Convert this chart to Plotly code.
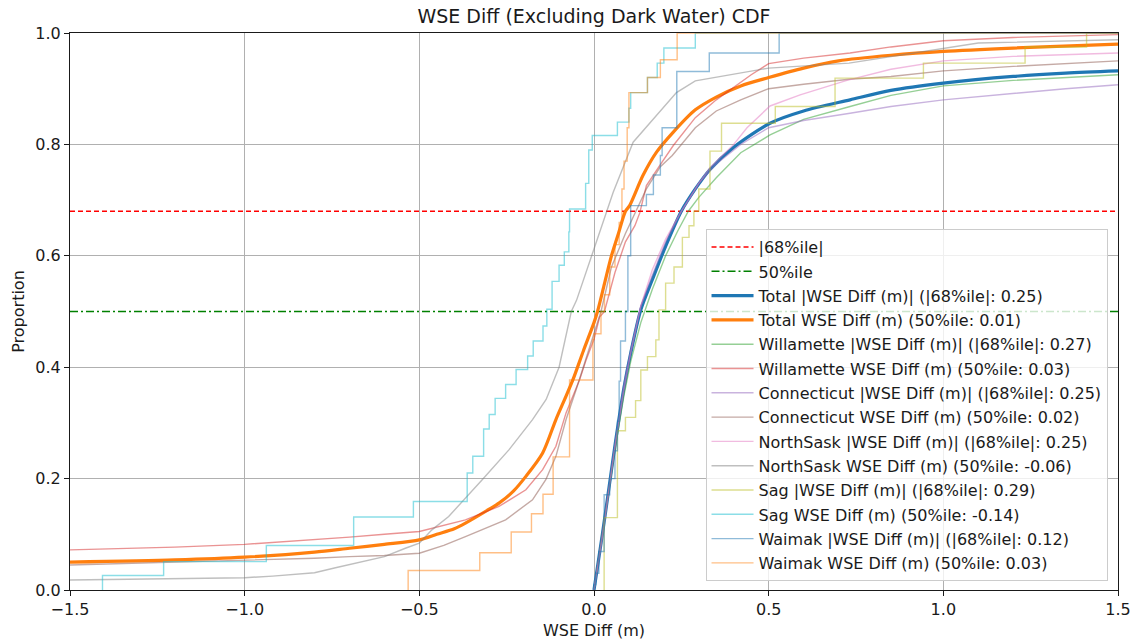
import plotly.graph_objects as go

# ---------------- data ----------------
x_range = [-1.5, 1.5]
ref_68 = 0.68
ref_50 = 0.50

total_abs_x = [0, 0.012, 0.024, 0.043, 0.062, 0.086, 0.105, 0.134, 0.167, 0.205, 0.25, 0.29, 0.332, 0.4, 0.504, 0.6, 0.733, 0.85, 1.0, 1.2, 1.35, 1.5]
total_abs_y = [0, 0.05, 0.1, 0.184, 0.268, 0.364, 0.425, 0.503, 0.557, 0.617, 0.68, 0.72, 0.755, 0.795, 0.838, 0.86, 0.88, 0.897, 0.91, 0.922, 0.928, 0.932]

total_x = [-1.5, -1.2, -1.0, -0.8, -0.7, -0.6, -0.5, -0.45, -0.4, -0.368, -0.3, -0.272, -0.23, -0.195, -0.147, -0.109, -0.08, -0.06, -0.03, 0.0, 0.01, 0.03, 0.05, 0.07, 0.09, 0.102, 0.14, 0.179, 0.227, 0.29, 0.35, 0.42, 0.5, 0.6, 0.7, 0.85, 1.0, 1.2, 1.5]
total_y = [0.05, 0.054, 0.059, 0.068, 0.075, 0.082, 0.09, 0.1, 0.11, 0.12, 0.145, 0.156, 0.178, 0.204, 0.246, 0.306, 0.348, 0.378, 0.43, 0.48, 0.5, 0.55, 0.6, 0.64, 0.68, 0.69, 0.744, 0.786, 0.822, 0.862, 0.885, 0.905, 0.92, 0.937, 0.95, 0.96, 0.967, 0.973, 0.98]

wil_abs_x = [0, 0.024, 0.043, 0.062, 0.086, 0.105, 0.134, 0.167, 0.205, 0.24, 0.27, 0.3, 0.35, 0.42, 0.504, 0.6, 0.733, 0.85, 1.0, 1.2, 1.5]
wil_abs_y = [0, 0.1, 0.18, 0.26, 0.35, 0.41, 0.48, 0.54, 0.6, 0.645, 0.68, 0.705, 0.74, 0.785, 0.817, 0.845, 0.868, 0.888, 0.905, 0.915, 0.925]

wil_x = [-1.5, -1.2, -1.0, -0.8, -0.7, -0.6, -0.5, -0.368, -0.272, -0.195, -0.147, -0.109, -0.08, -0.041, -0.022, 0.0, 0.016, 0.03, 0.06, 0.09, 0.117, 0.131, 0.15, 0.188, 0.227, 0.29, 0.35, 0.45, 0.5, 0.6, 0.733, 0.85, 1.0, 1.2, 1.4, 1.5]
wil_y = [0.072, 0.077, 0.082, 0.09, 0.095, 0.1, 0.105, 0.126, 0.15, 0.18, 0.216, 0.258, 0.318, 0.378, 0.414, 0.45, 0.49, 0.5, 0.57, 0.625, 0.654, 0.677, 0.726, 0.762, 0.798, 0.848, 0.88, 0.925, 0.945, 0.955, 0.964, 0.975, 0.986, 0.992, 0.996, 0.997]

con_abs_x = [0, 0.024, 0.043, 0.062, 0.086, 0.105, 0.134, 0.167, 0.205, 0.25, 0.3, 0.35, 0.42, 0.5, 0.6, 0.733, 0.85, 1.0, 1.2, 1.35, 1.5]
con_abs_y = [0, 0.1, 0.185, 0.27, 0.37, 0.43, 0.51, 0.565, 0.625, 0.68, 0.73, 0.765, 0.8, 0.83, 0.843, 0.856, 0.868, 0.88, 0.892, 0.9, 0.907]

con_x = [-1.5, -1.2, -1.0, -0.8, -0.7, -0.6, -0.5, -0.43, -0.368, -0.3, -0.253, -0.176, -0.138, -0.109, -0.08, -0.051, -0.02, 0.0, 0.02, 0.05, 0.09, 0.12, 0.15, 0.19, 0.224, 0.29, 0.35, 0.42, 0.5, 0.6, 0.73, 0.85, 1.0, 1.2, 1.35, 1.5]
con_y = [0.045, 0.05, 0.054, 0.057, 0.06, 0.062, 0.066, 0.08, 0.096, 0.113, 0.126, 0.162, 0.198, 0.24, 0.306, 0.36, 0.42, 0.46, 0.5, 0.58, 0.64, 0.68, 0.72, 0.76, 0.78, 0.83, 0.86, 0.88, 0.9, 0.908, 0.917, 0.922, 0.932, 0.94, 0.945, 0.95]

ns_abs_x = [0, 0.024, 0.043, 0.062, 0.086, 0.105, 0.134, 0.167, 0.205, 0.25, 0.3, 0.332, 0.4, 0.438, 0.504, 0.59, 0.724, 0.85, 1.0, 1.2, 1.5]
ns_abs_y = [0, 0.095, 0.18, 0.265, 0.36, 0.425, 0.51, 0.575, 0.63, 0.68, 0.73, 0.758, 0.8, 0.83, 0.869, 0.889, 0.915, 0.935, 0.95, 0.958, 0.964]

ns_x = [-1.5, -1.0, -0.92, -0.8, -0.74, -0.6, -0.54, -0.5, -0.464, -0.416, -0.32, -0.243, -0.176, -0.137, -0.1, -0.065, -0.05, -0.003, 0.055, 0.112, 0.179, 0.236, 0.29, 0.5, 0.73, 1.0, 1.1, 1.5]
ns_y = [0.018, 0.022, 0.025, 0.031, 0.04, 0.06, 0.075, 0.084, 0.108, 0.132, 0.198, 0.252, 0.306, 0.342, 0.4, 0.5, 0.52, 0.606, 0.714, 0.804, 0.851, 0.893, 0.914, 0.937, 0.946, 0.972, 0.982, 0.988]

sag_abs_x = [0.029, 0.029, 0.067, 0.09, 0.119, 0.134, 0.153, 0.177, 0.186, 0.205, 0.229, 0.253, 0.272, 0.286, 0.3, 0.332, 0.365, 0.519, 0.69, 0.943, 1.234, 1.41, 1.5]
sag_abs_y = [0, 0.13, 0.286, 0.31, 0.34, 0.395, 0.419, 0.449, 0.503, 0.551, 0.58, 0.633, 0.654, 0.68, 0.72, 0.788, 0.838, 0.868, 0.919, 0.946, 0.975, 1.0, 1.0]

sag_x = [-1.407, -1.407, -1.232, -0.938, -0.688, -0.517, -0.363, -0.347, -0.316, -0.30, -0.283, -0.253, -0.223, -0.19, -0.174, -0.146, -0.135, -0.12, -0.1, -0.085, -0.072, -0.07, -0.024, -0.015, -0.005, 0.067, 0.1, 0.105, 0.153, 0.181, 0.2, 0.29, 1.5]
sag_y = [0, 0.026, 0.051, 0.08, 0.131, 0.159, 0.21, 0.24, 0.289, 0.315, 0.344, 0.369, 0.396, 0.42, 0.447, 0.474, 0.504, 0.554, 0.583, 0.607, 0.643, 0.684, 0.73, 0.79, 0.816, 0.84, 0.865, 0.893, 0.92, 0.946, 0.973, 1.0, 1.0]

wai_abs_x = [0, 0, 0.005, 0.014, 0.029, 0.045, 0.06, 0.067, 0.072, 0.076, 0.09, 0.097, 0.105, 0.15, 0.17, 0.19, 0.195, 0.237, 0.33, 0.53, 1.5]
wai_abs_y = [0, 0.01, 0.03, 0.069, 0.171, 0.2, 0.25, 0.303, 0.375, 0.447, 0.5, 0.6, 0.69, 0.71, 0.745, 0.78, 0.83, 0.931, 0.964, 1.0, 1.0]

wai_x = [-0.532, -0.532, -0.327, -0.237, -0.179, -0.146, -0.117, -0.07, -0.003, 0.0, 0.02, 0.03, 0.045, 0.06, 0.072, 0.08, 0.086, 0.095, 0.1, 0.153, 0.19, 0.238, 1.5]
wai_y = [0, 0.035, 0.067, 0.104, 0.137, 0.172, 0.239, 0.377, 0.45, 0.46, 0.5, 0.53, 0.58, 0.62, 0.66, 0.72, 0.77, 0.83, 0.893, 0.92, 0.952, 1.0, 1.0]

x_ticks = [-1.5, -1.0, -0.5, 0.0, 0.5, 1.0, 1.5]
x_tick_text = ["\u22121.5", "\u22121.0", "\u22120.5", "0.0", "0.5", "1.0", "1.5"]
y_ticks = [0.0, 0.2, 0.4, 0.6, 0.8, 1.0]
y_tick_text = ["0.0", "0.2", "0.4", "0.6", "0.8", "1.0"]

# ---------------- figure ----------------
FONT = "DejaVu Sans"
FS = 16
fig = go.Figure()

def add(x, y, name, color, width, dash="solid", shape="linear", smoothing=None):
    line = dict(color=color, width=width, dash=dash, shape=shape)
    if smoothing is not None:
        line["smoothing"] = smoothing
    fig.add_trace(go.Scatter(x=x, y=y, mode="lines", name=name, line=line,
                             legendgroup=name, hoverinfo="skip"))

add(x_range, [ref_68, ref_68], "|68%ile|", "#ff0000", 1.6, dash="5px,3px")
add(x_range, [ref_50, ref_50], "50%ile", "#008000", 1.6, dash="8px,3px,2px,3px")
add(total_abs_x, total_abs_y, "Total |WSE Diff (m)| (|68%ile|: 0.25)", "#1f77b4", 3.2, shape="spline", smoothing=0.8)
add(total_x, total_y, "Total WSE Diff (m) (50%ile: 0.01)", "#ff7f0e", 3.2, shape="spline", smoothing=0.8)

A = 0.5
add(wil_abs_x, wil_abs_y, "Willamette |WSE Diff (m)| (|68%ile|: 0.27)", f"rgba(44,160,44,{A})", 1.4)
add(wil_x, wil_y, "Willamette WSE Diff (m) (50%ile: 0.03)", f"rgba(214,39,40,{A})", 1.4)
add(con_abs_x, con_abs_y, "Connecticut |WSE Diff (m)| (|68%ile|: 0.25)", f"rgba(148,103,189,{A})", 1.4)
add(con_x, con_y, "Connecticut WSE Diff (m) (50%ile: 0.02)", f"rgba(140,86,75,{A})", 1.4)
add(ns_abs_x, ns_abs_y, "NorthSask |WSE Diff (m)| (|68%ile|: 0.25)", f"rgba(227,119,194,{A})", 1.4)
add(ns_x, ns_y, "NorthSask WSE Diff (m) (50%ile: -0.06)", f"rgba(127,127,127,{A})", 1.4)
add(sag_abs_x, sag_abs_y, "Sag |WSE Diff (m)| (|68%ile|: 0.29)", f"rgba(188,189,34,{A})", 1.4, shape="hv")
add(sag_x, sag_y, "Sag WSE Diff (m) (50%ile: -0.14)", f"rgba(23,190,207,{A})", 1.4, shape="hv")
add(wai_abs_x, wai_abs_y, "Waimak |WSE Diff (m)| (|68%ile|: 0.12)", f"rgba(31,119,180,{A})", 1.4, shape="hv")
add(wai_x, wai_y, "Waimak WSE Diff (m) (50%ile: 0.03)", f"rgba(255,127,14,{A})", 1.4, shape="hv")

axis_common = dict(
    showline=True, linecolor="#1a1a1a", linewidth=1.2, mirror=True,
    ticks="outside", ticklen=5, tickwidth=1.1, tickcolor="#1a1a1a",
    showgrid=True, gridcolor="#b0b0b0", gridwidth=1, zeroline=False,
    automargin=False, ticklabeloverflow="allow",
    tickfont=dict(family=FONT, size=FS, color="#1a1a1a"),
)

fig.update_layout(
    width=1130, height=641,
    margin=dict(l=70, r=12, t=33, b=51),
    paper_bgcolor="white", plot_bgcolor="white",
    font=dict(family=FONT, color="#1a1a1a"),
    title=dict(text="WSE Diff (Excluding Dark Water) CDF", x=(70 + 1118) / 2 / 1130, xanchor="center",
               yref="container", y=1 - 16 / 641, yanchor="middle",
               font=dict(family=FONT, size=19, color="#1a1a1a")),
    xaxis=dict(range=x_range, tickvals=x_ticks, ticktext=x_tick_text,
               title=dict(text="WSE Diff (m)", font=dict(family=FONT, size=FS), standoff=6),
               **axis_common),
    yaxis=dict(range=[0, 1], tickvals=y_ticks, ticktext=y_tick_text,
               title=dict(text="Proportion", font=dict(family=FONT, size=FS), standoff=6),
               **axis_common),
    legend=dict(x=0.99, y=0.016, xanchor="right", yanchor="bottom",
                bgcolor="rgba(255,255,255,0.8)", bordercolor="#cccccc", borderwidth=1,
                font=dict(family=FONT, size=FS, color="#1a1a1a"),
                tracegroupgap=0.5, itemwidth=42),
    showlegend=True,
)

fig.write_html("out.html")
